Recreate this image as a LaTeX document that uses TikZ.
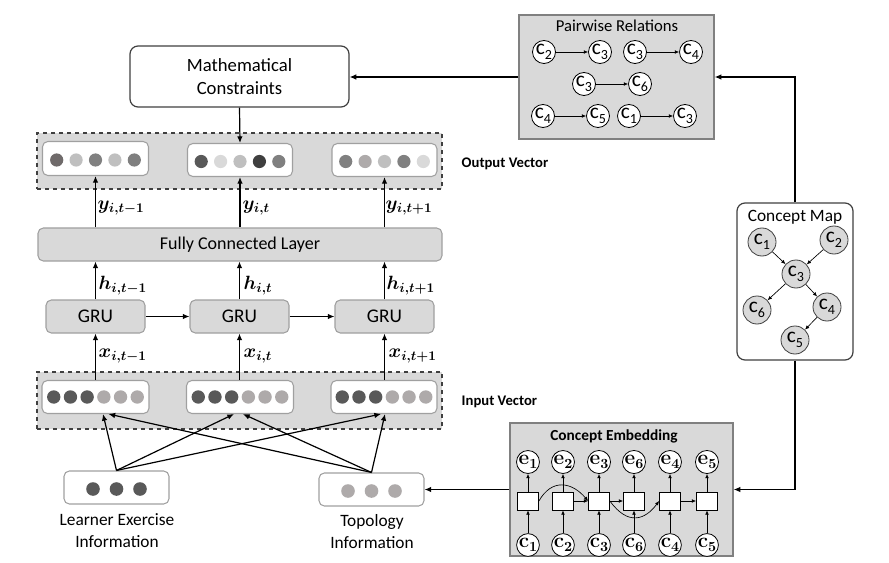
\documentclass[tikz,border=0pt]{standalone}
\usepackage[no-math]{fontspec}
\usepackage{bm}
\setmainfont{Carlito}
\usetikzlibrary{arrows.meta,calc}
\definecolor{panel}{HTML}{D9D9D9}
\definecolor{dk}{HTML}{595959}
\definecolor{lt}{HTML}{AEAAAA}
\definecolor{edgegray}{HTML}{A0A0A0}
\definecolor{darkline}{HTML}{404040}
\newcommand\pxu{0.75pt}
\newcommand\cl[1]{c\raisebox{-0.45ex}{\fontsize{10.5}{10.5}\selectfont #1}}
\newcommand\serb{\fontfamily{lmr}\fontseries{bx}\selectfont}
\newcommand\el[1]{{\serb e\raisebox{-0.45ex}{\fontsize{10.5}{10.5}\serb #1}}}
\newcommand\cmm[1]{{\serb c\raisebox{-0.45ex}{\fontsize{10.5}{10.5}\serb #1}}}
\newcommand\bl[1]{$\bm{#1}$}
\tikzset{
  sized/.style 2 args={minimum width=#1*\pxu, minimum height=#2*\pxu, inner sep=0pt},
  arr/.style={draw=black, line width=0.9pt, -{Latex[length=5pt,width=4.2pt]}},
  tarr/.style={draw=black, line width=0.5pt, -{Latex[length=3.2pt,width=2.8pt]}},
  mcbox/.style={draw=darkline, line width=0.9pt, fill=white, rounded corners=6pt},
  vpanel/.style={draw=darkline, dashed, line width=0.8pt, fill=panel},
  vecbox/.style={draw=edgegray, line width=0.8pt, fill=white, rounded corners=4pt},
  graybox/.style={draw=edgegray, line width=0.8pt, fill=panel, rounded corners=4pt},
  sqpanel/.style={draw=gray, line width=1pt, fill=panel},
  mappanel/.style={draw=darkline, line width=0.9pt, fill=white, rounded corners=6pt},
  pwc/.style={circle, draw=black, line width=0.6pt, fill=white, minimum size=23*\pxu, inner sep=0pt, font=\fontsize{16}{16}\selectfont},
  cmc/.style={circle, draw=darkline, line width=0.6pt, fill=panel, minimum size=28*\pxu, inner sep=0pt, font=\fontsize{16}{16}\selectfont},
  ec/.style={circle, draw=black, line width=0.6pt, fill=white, minimum size=21*\pxu, inner sep=0pt, font=\fontsize{15.5}{15.5}\selectfont},
  cell/.style={draw=black, line width=0.6pt, fill=white, minimum width=21*\pxu, minimum height=18*\pxu, inner sep=0pt},
  lbl/.style={font=\fontsize{14.5}{14.5}\selectfont, inner sep=1pt, anchor=west},
}
\begin{document}
\begin{tikzpicture}[x=0.75pt,y=-0.75pt]
\useasboundingbox (0,0) rectangle (889,563);

% ---------- Mathematical constraints
\node[mcbox, sized={219}{61}, align=center, font=\fontsize{14}{17}\selectfont] (mc) at (239.5,76.5) {Mathematical\\Constraints};

% ---------- Output vector panel
\node[vpanel, sized={405}{56}] (outp) at (239.5,161) {};
\node[vecbox, sized={106}{34}] (o1) at (95.5,158.5) {};
\node[vecbox, sized={105}{33}] (o2) at (240,160) {};
\node[vecbox, sized={105}{33}] (o3) at (384.5,160) {};
\foreach \cc [count=\k from 0] in {6F6A6A,BFBFBF,808080,BFBFBF,7F7F7F}{
  \definecolor{dotc}{HTML}{\cc}
  \fill[dotc] ($(o1)+({(\k-2)*19.4},1.5)$) circle (6.6);}
\foreach \cc [count=\k from 0] in {595959,D9D9D9,BFBFBF,3F3F3F,808080}{
  \definecolor{dotc}{HTML}{\cc}
  \fill[dotc] ($(o2)+({(\k-2)*19.4},1.5)$) circle (6.6);}
\foreach \cc [count=\k from 0] in {808080,AEAAAA,BFBFBF,808080,D9D9D9}{
  \definecolor{dotc}{HTML}{\cc}
  \fill[dotc] ($(o3)+({(\k-2)*19.4},1.5)$) circle (6.6);}
\node[anchor=west, font=\fontsize{11}{11}\selectfont\bfseries] (outlbl) at (457,164) {Output Vector};

% ---------- Fully connected layer
\node[graybox, sized={404}{33}, font=\fontsize{13.5}{13.5}\selectfont] (fc) at (240,244.5) {Fully Connected Layer};

% ---------- GRUs
\node[graybox, sized={99}{33}, font=\fontsize{14.5}{14.5}\selectfont] (g1) at (95.5,316.5) {GRU};
\node[graybox, sized={99}{33}, font=\fontsize{14.5}{14.5}\selectfont] (g2) at (239.5,316.5) {GRU};
\node[graybox, sized={99}{33}, font=\fontsize{14.5}{14.5}\selectfont] (g3) at (384.5,316.5) {GRU};

% ---------- Input vector panel
\node[vpanel, sized={405}{57}] (inp) at (239.5,400.5) {};
\node[vecbox, sized={107}{33}] (i1) at (95.5,397) {};
\node[vecbox, sized={107}{33}] (i2) at (240,397) {};
\node[vecbox, sized={106}{33}] (i3) at (384,397) {};
\foreach \bb in {i1,i2,i3}{
  \foreach \k in {0,1,2} \fill[dk] ($(\bb)+({(\k-2.5)*16.7},0)$) circle (6.7);
  \foreach \k in {3,4,5} \fill[lt] ($(\bb)+({(\k-2.5)*16.7},0)$) circle (6.7);
}
\node[anchor=west, font=\fontsize{11}{11}\selectfont\bfseries] (inlbl) at (457,402) {Input Vector};

% ---------- Learner / Topology information
\node[vecbox, sized={105}{33}] (le) at (116.5,487.5) {};
\foreach \k in {-1,0,1} \fill[dk] ($(le)+({\k*23.5},1.5)$) circle (6.8);
\node[align=center, font=\fontsize{13}{16.5}\selectfont, anchor=north] (letxt) at (117,509) {Learner Exercise\\Information};
\node[vecbox, sized={105}{33}] (tp) at (371.5,489.5) {};
\foreach \k in {-1,0,1} \fill[lt] ($(tp)+({\k*23.5},1.5)$) circle (6.8);
\node[align=center, font=\fontsize{13}{16.5}\selectfont, anchor=north] (tptxt) at (372,510) {Topology\\Information};

% ---------- vertical arrows and labels
\draw[arr] (mc.south) -- (o2.north);
\draw[arr] (o1.south |- fc.north) -- (o1.south);
\draw[arr] (o2.south |- fc.north) -- (o2.south);
\draw[arr] (o3.south |- fc.north) -- (o3.south);
\draw[arr] (g1.north) -- (g1.north |- fc.south);
\draw[arr] (g2.north) -- (g2.north |- fc.south);
\draw[arr] (g3.north) -- (g3.north |- fc.south);
\draw[arr] (i1.north -| g1.south) -- (g1.south);
\draw[arr] (i2.north -| g2.south) -- (g2.south);
\draw[arr] (i3.north -| g3.south) -- (g3.south);
\draw[arr] (g1.east) -- (g2.west);
\draw[arr] (g2.east) -- (g3.west);

\node[lbl] (y1) at (96,208) {\bl{y_{i,t-1}}};
\node[lbl] (y2) at (241,208) {\bl{y_{i,t}}};
\node[lbl] (y3) at (384,208) {\bl{y_{i,t+1}}};
\node[lbl] (h1) at (97,286) {\bl{h_{i,t-1}}};
\node[lbl] (h2) at (242,286) {\bl{h_{i,t}}};
\node[lbl] (h3) at (385,286) {\bl{h_{i,t+1}}};
\node[lbl] (x1) at (97,356) {\bl{x_{i,t-1}}};
\node[lbl] (x2) at (242,356) {\bl{x_{i,t}}};
\node[lbl] (x3) at (387,356) {\bl{x_{i,t+1}}};

% ---------- information to input vectors
\draw[arr] (le.north) -- ($(i1.south)+(7.5,0)$);
\draw[arr] (le.north) -- ($(i2.south)+(-6,0)$);
\draw[arr] (le.north) -- ($(i3.south)+(-3,0)$);
\draw[arr] (tp.north) -- ($(i1.south)+(13,0)$);
\draw[arr] (tp.north) -- ($(i2.south)+(3,0)$);
\draw[arr] (tp.north) -- ($(i3.south)+(1,0)$);

% ---------- Pairwise relations
\node[sqpanel, sized={195}{124}] (pw) at (616.5,77) {};
\node[font=\fontsize{12.5}{12.5}\selectfont] (pwtitle) at (617,26) {Pairwise Relations};
\node[pwc] (pa) at (544,52) {\cl2};
\node[pwc] (pb) at (600,52) {\cl3};
\node[pwc] (pc) at (635,52) {\cl3};
\node[pwc] (pd) at (691,52) {\cl4};
\node[pwc] (pe) at (584,84) {\cl3};
\node[pwc] (pf) at (640,84) {\cl6};
\node[pwc] (pg) at (543,116) {\cl4};
\node[pwc] (ph) at (598,116) {\cl5};
\node[pwc] (pi) at (629,116) {\cl1};
\node[pwc] (pj) at (685,116) {\cl3};
\draw[tarr] (pa) -- (pb);
\draw[tarr] (pc) -- (pd);
\draw[tarr] (pe) -- (pf);
\draw[tarr] (pg) -- (ph);
\draw[tarr] (pi) -- (pj);

% ---------- Concept map
\node[mappanel, sized={116}{157}] (cmap) at (795,281.5) {};
\node[font=\fontsize{13}{13}\selectfont] (cmtitle) at (795,217) {Concept Map};
\node[cmc] (m1) at (762,242) {\cl1};
\node[cmc] (m2) at (834,240) {\cl2};
\node[cmc] (m3) at (796,274) {\cl3};
\node[cmc] (m6) at (757,310) {\cl6};
\node[cmc] (m4) at (827,307) {\cl4};
\node[cmc] (m5) at (795,340) {\cl5};
\draw[tarr] (m1) -- (m3);
\draw[tarr] (m2) -- (m3);
\draw[tarr] (m3) -- (m6);
\draw[tarr] (m3) -- (m4);
\draw[tarr] (m4) -- (m5);

% ---------- Concept embedding
\node[sqpanel, sized={223}{133}] (emb) at (621.5,489.5) {};
\node[font=\fontsize{11.5}{11.5}\selectfont\bfseries] (embtitle) at (614,436) {Concept Embedding};
\foreach \xx/\ee [count=\k] in {528/1,563/2,599/3,634/6,670/4,707/5}{
  \node[ec] (e\k) at (\xx,462) {\el{\ee}};
  \node[cell] (b\k) at (\xx,501) {};
  \node[ec] (c\k) at (\xx,545) {\cmm{\ee}};
  \draw[tarr] (c\k) -- (b\k);
  \draw[tarr] (b\k) -- (e\k);
}
\draw[tarr] (b2) -- (b3);
\draw[tarr] (b3) -- (b4);
\draw[tarr] (b5) -- (b6);
\draw[tarr] (b1.east) .. controls (552,478) and (572,482) .. (b3.west);
\draw[tarr] (b3.east) .. controls (628,526) and (645,520) .. (b5.west);

% ---------- long connectors
\draw[arr] (pw.west) -- (pw.west -| mc.east);
\draw[arr] (cmap.north) |- (pw.east);
\draw[arr] (cmap.south) |- (emb.east);
\draw[arr] (emb.west) -- (emb.west -| tp.east);
\end{tikzpicture}
\end{document}
